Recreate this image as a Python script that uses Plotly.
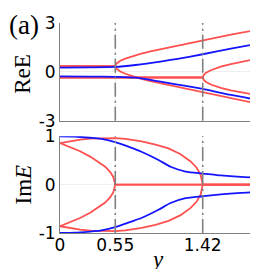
import plotly.graph_objects as go

# ---------------- data ----------------
thresholds = [0.55, 1.42]
x_ticks = [0, 0.55, 1.42, 2]
x_ticklabels = ["0", "0.55", "1.42", "2"]
re_ticks = [-3, 0, 3]
re_ticklabels = ["-3", "0", "3"]
im_ticks = [-1, 0, 1]
im_ticklabels = ["-1", "0", "1"]

# Re E, red branches splitting at y = 0.55
y_ab = [0, 0.55, 0.56, 0.58, 0.6, 0.65, 0.7, 0.8, 0.9, 1.0, 1.2, 1.42, 1.7, 2.0]
re_a = [0.35, 0.35, 0.5, 0.61, 0.68, 0.81, 0.92, 1.1, 1.25, 1.38, 1.65, 1.92, 2.28, 2.62]
re_b = [0.35, 0.35, 0.2, 0.09, 0.02, -0.12, -0.23, -0.42, -0.57, -0.7, -0.98, -1.28, -1.65, -2.0]
# Re E, red branches splitting at y = 1.42
y_cd = [0, 1.42, 1.43, 1.45, 1.5, 1.6, 1.7, 1.8, 1.9, 2.0]
re_c = [-0.35, -0.35, -0.19, -0.07, 0.1, 0.32, 0.48, 0.61, 0.73, 0.85]
re_d = [-0.35, -0.35, -0.5, -0.61, -0.78, -0.99, -1.14, -1.27, -1.37, -1.46]
# Re E, blue
y_blue_re = [0, 0.3, 0.55, 0.75, 1.0, 1.17, 1.42, 1.7, 2.0]
re_blue_u = [0.26, 0.27, 0.3, 0.42, 0.63, 0.8, 1.08, 1.42, 1.76]
re_blue_l = [-0.28, -0.29, -0.31, -0.36, -0.6, -0.78, -1.05, -1.42, -1.76]

# Im E, red small arc (closes at 0.55)
y_im_ab = [0, 0.1, 0.2, 0.3, 0.4, 0.45, 0.5, 0.53, 0.55, 2.0]
im_a = [0.86, 0.78, 0.69, 0.58, 0.45, 0.37, 0.26, 0.16, 0, 0]
im_b = [-0.86, -0.78, -0.69, -0.58, -0.45, -0.37, -0.26, -0.16, 0, 0]
# Im E, red large arc (closes at 1.42)
y_im_cd = [0, 0.1, 0.2, 0.3, 0.45, 0.55, 0.65, 0.8, 0.95, 1.08, 1.2, 1.3, 1.36, 1.4, 1.42, 2.0]
im_c = [0.86, 0.9, 0.93, 0.95, 0.96, 0.96, 0.945, 0.9, 0.83, 0.75, 0.63, 0.48, 0.35, 0.2, 0, 0]
im_d = [-0.86, -0.9, -0.93, -0.95, -0.96, -0.96, -0.945, -0.9, -0.83, -0.75, -0.63, -0.48, -0.35, -0.2, 0, 0]
# Im E, blue
y_blue_im = [0, 0.15, 0.3, 0.4, 0.55, 0.7, 0.81, 0.98, 1.1, 1.25, 1.42, 1.6, 1.8, 2.0]
im_blue_u = [1.0, 0.995, 0.97, 0.95, 0.88, 0.77, 0.68, 0.51, 0.37, 0.27, 0.23, 0.19, 0.16, 0.14]
im_blue_l = [-1.0, -0.995, -0.97, -0.95, -0.88, -0.77, -0.69, -0.52, -0.38, -0.28, -0.24, -0.2, -0.17, -0.15]

# ---------------- styling ----------------
RED = "rgb(255,80,80)"
BLUE = "rgb(20,20,255)"
GRAY = "rgb(128,128,128)"
TICKFONT = dict(family="DejaVu Sans", size=17, color="black")
SERIF = "Liberation Serif, Times New Roman, serif"

fig = go.Figure()

def add(x, y, color, yaxis, spline=False):
    fig.add_trace(go.Scatter(
        x=x, y=y, mode="lines", xaxis="x" if yaxis == "y" else "x2", yaxis=yaxis,
        line=dict(color=color, width=1.8, shape="spline" if spline else "linear",
                  smoothing=0.6 if spline else None),
        showlegend=False, hoverinfo="skip"))

# top panel
add(y_ab, re_a, RED, "y")
add(y_ab, re_b, RED, "y")
add(y_cd, re_c, RED, "y")
add(y_cd, re_d, RED, "y")
add(y_blue_re, re_blue_u, BLUE, "y", True)
add(y_blue_re, re_blue_l, BLUE, "y", True)
# bottom panel
add(y_im_ab, im_a, RED, "y2")
add(y_im_ab, im_b, RED, "y2")
add(y_im_cd, im_c, RED, "y2")
add(y_im_cd, im_d, RED, "y2")
add(y_blue_im, im_blue_u, BLUE, "y2", True)
add(y_blue_im, im_blue_l, BLUE, "y2", True)

# dash-dot vertical markers
for t in thresholds:
    for xr, yr in (("x", "y domain"), ("x2", "y2 domain")):
        fig.add_shape(type="line", xref=xr, yref=yr, x0=t, x1=t, y0=0, y1=1,
                      line=dict(color=GRAY, width=1.6, dash="14px,4px,2px,4px"),
                      layer="above")

common_x = dict(range=[0, 2], tickvals=x_ticks, ticktext=x_ticklabels, showline=True,
                linecolor=GRAY, linewidth=1, showgrid=True, gridcolor="rgb(238,238,238)",
                zeroline=False, ticks="", tickfont=TICKFONT, fixedrange=True)
common_y = dict(showline=True, linecolor=GRAY, linewidth=1, showgrid=True,
                gridcolor="rgb(238,238,238)", zeroline=False, ticks="", tickfont=TICKFONT)

fig.update_layout(
    width=258, height=269, autosize=False,
    margin=dict(l=52, r=5, t=10, b=44),
    paper_bgcolor="white", plot_bgcolor="white",
    xaxis=dict(common_x, domain=[0, 1], anchor="y", showticklabels=False),
    yaxis=dict(common_y, domain=[0.535, 1], anchor="x", range=[-3, 3],
               tickvals=re_ticks, ticktext=re_ticklabels),
    xaxis2=dict(common_x, domain=[0, 1], anchor="y2", showticklabels=True,
                ticklabelstandoff=-3),
    yaxis2=dict(common_y, domain=[0, 0.4605], anchor="x2", range=[-1, 1],
                tickvals=im_ticks, ticktext=im_ticklabels),
    annotations=[
        dict(text="(a)", x=-0.179, y=0.991, xref="paper", yref="paper",
             showarrow=False, xanchor="center", yanchor="middle",
             font=dict(family=SERIF, size=27, color="black")),
        dict(text="ReE", x=-0.184, y=0.758, xref="paper", yref="paper",
             showarrow=False, xanchor="center", yanchor="middle", textangle=-90,
             font=dict(family=SERIF, size=23, color="black")),
        dict(text="Im<i>E</i>", x=-0.182, y=0.233, xref="paper", yref="paper",
             showarrow=False, xanchor="center", yanchor="middle", textangle=-90,
             font=dict(family=SERIF, size=23, color="black")),
        dict(text="<i>y</i>", x=0.483, y=-0.125, xref="paper", yref="paper",
             showarrow=False, xanchor="center", yanchor="middle",
             font=dict(family=SERIF, size=23, color="black")),
    ],
)

fig.write_html("out.html")
